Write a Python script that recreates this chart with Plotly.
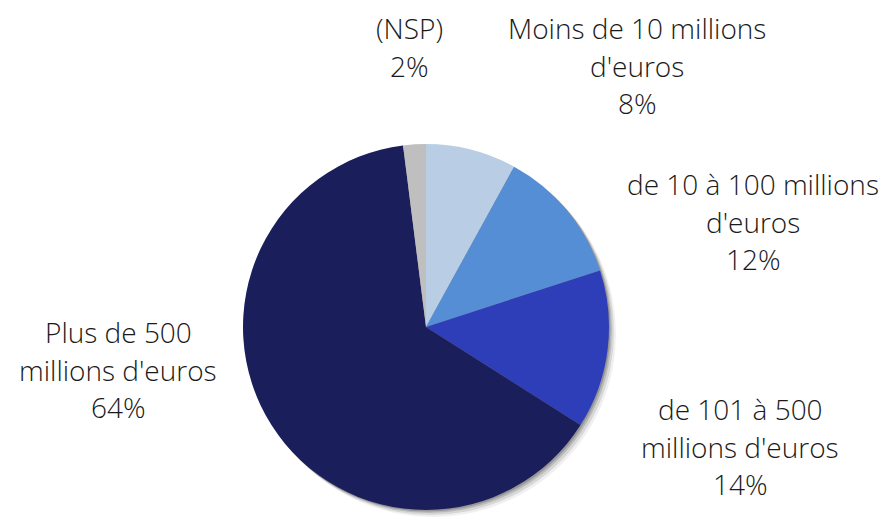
import plotly.graph_objects as go

# ------------data
labels = ["Moins de 10 millions d'euros", "de 10 à 100 millions d'euros",
          "de 101 à 500 millions d'euros", "Plus de 500 millions d'euros", "(NSP)"]
values = [8, 12, 14, 64, 2]
colors = ["#B9CDE5", "#558ED5", "#2E3DB8", "#1A1F5B", "#BFBFBF"]

# how each label is split on lines in the picture
label_lines = [["Moins de 10 millions", "d'euros"],
               ["de 10 à 100 millions", "d'euros"],
               ["de 101 à 500", "millions d'euros"],
               ["Plus de 500", "millions d'euros"],
               ["(NSP)"]]

# ------------layout defines
W, H = 887, 523
cx, cy, r = 426, 327, 183
label_pos = [(637, 28), (753, 184), (740, 409), (118, 332), (409, 28)]
line_gap = 37.5
font_family = "Open Sans"
text_color = "#1A1A1A"


def dom(x0, y0, rad):
    return dict(x=[(x0 - rad) / W, (x0 + rad) / W],
                y=[(H - y0 - rad) / H, (H - y0 + rad) / H])


fig = go.Figure()

fig.add_trace(go.Pie(values=values, labels=labels, sort=False, direction="clockwise",
                     rotation=0, marker=dict(colors=colors, line=dict(width=0)),
                     textinfo="none", showlegend=False, domain=dom(cx, cy, r)))

# soft shadow under the pie (bottom right), as circles behind the trace
shapes = []
for off, alpha in [(7, 0.06), (5, 0.10), (3, 0.14), (1.5, 0.18)]:
    d = dom(cx + off, cy + off, r)
    shapes.append(dict(type="circle", xref="paper", yref="paper", layer="below",
                       x0=d["x"][0], x1=d["x"][1], y0=d["y"][0], y1=d["y"][1],
                       fillcolor="rgba(0,0,0,%s)" % alpha, line=dict(width=0)))

annotations = []
for lines, v, (x, y) in zip(label_lines, values, label_pos):
    for i, t in enumerate(lines + ["%d%%" % v]):
        annotations.append(dict(x=x / W, y=1 - (y + i * line_gap) / H, xref="paper", yref="paper",
                                text=t, showarrow=False, xanchor="center", yanchor="middle",
                                font=dict(family=font_family, size=28, color=text_color, weight=300)))

fig.update_layout(width=W, height=H, margin=dict(l=0, r=0, t=0, b=0),
                  paper_bgcolor="white", plot_bgcolor="white",
                  shapes=shapes, annotations=annotations)

# page body margin would push the chart 8px right/down
fig.write_html("out.html", config={"displayModeBar": False},
               post_script="document.body.style.margin='0';")
